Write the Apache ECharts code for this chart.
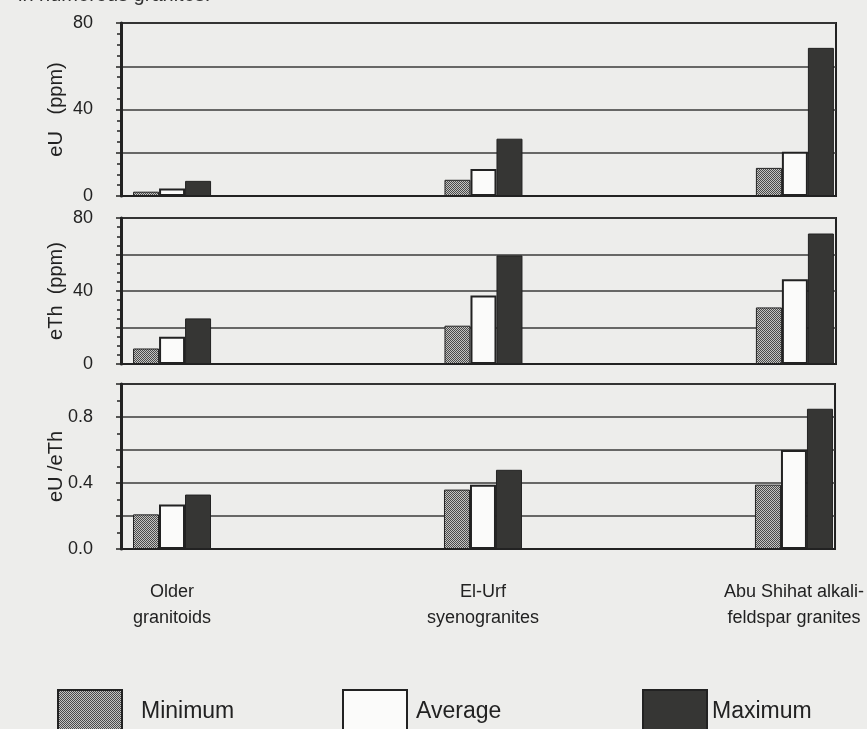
<!DOCTYPE html>
<html>
<head>
<meta charset="utf-8">
<script src="https://cdn.jsdelivr.net/npm/echarts@6/dist/echarts.min.js"></script>
<style>
  html, body { margin: 0; padding: 0; background: #ededeb; }
  #chart { width: 867px; height: 729px; }
</style>
</head>
<body>
<div id="chart"></div>
<script>
// rock groups, placed at 1, 2, 3 on the shared x value axis
const groups = ['Older\ngranitoids', 'El-Urf\nsyenogranites', 'Abu Shihat alkali-\nfeldspar granites'];
const groupPos = [1, 2, 3];

// eU (ppm)
const eUMin = [2, 7.5, 13];
const eUAvg = [3.5, 12.5, 20.5];
const eUMax = [7, 26.5, 68.5];

// eTh (ppm)
const eThMin = [8.5, 21, 31];
const eThAvg = [15, 37.5, 46.5];
const eThMax = [25, 59.5, 71.5];

// eU / eTh
const ratioMin = [0.21, 0.36, 0.39];
const ratioAvg = [0.27, 0.39, 0.60];
const ratioMax = [0.33, 0.48, 0.85];

const ink = '#222';

// stippled fill for the "Minimum" bars
const dots = document.createElement('canvas');
dots.width = 4; dots.height = 4;
const dctx = dots.getContext('2d');
dctx.fillStyle = '#c4c4c2';
dctx.fillRect(0, 0, 4, 4);
dctx.fillStyle = '#4a4a4a';
for (let y = 0; y < 4; y++) {
  for (let x = 0; x < 4; x++) {
    if ((x + y) % 2 === 0) dctx.fillRect(x, y, 1, 1);
  }
}

const styles = {
  Minimum: { color: { image: dots, repeat: 'repeat' }, borderColor: ink, borderWidth: 1 },
  Average: { color: '#fbfbfa', borderColor: ink, borderWidth: 2 },
  Maximum: { color: '#363634', borderColor: ink, borderWidth: 1 }
};

const pairs = vals => vals.map((v, i) => [groupPos[i], v]);

const chart = echarts.init(document.getElementById('chart'));

const grids = [
  { left: 121, right: 31, top: 23, height: 173 },
  { left: 121, right: 31, top: 218, height: 146 },
  { left: 121, right: 31, top: 384, height: 165 }
].map(g => Object.assign(g, { show: true, borderColor: ink, borderWidth: 2, backgroundColor: 'transparent' }));

const xAxes = [0, 1, 2].map(i => ({
  type: 'value',
  gridIndex: i,
  min: 0.836,
  max: 3.132,
  splitLine: { show: false },
  axisTick: { show: false },
  axisLine: { show: true, onZero: false, lineStyle: { color: ink, width: 2 } },
  axisLabel: {
    show: i === 2,
    customValues: groupPos,
    formatter: v => groups[Math.round(v) - 1] || '',
    margin: 30,
    color: ink,
    fontFamily: 'Liberation Sans',
    fontSize: 18,
    lineHeight: 26
  }
}));

const yBase = {
  axisLine: { show: true, lineStyle: { color: ink, width: 3 } },
  axisTick: { show: true, length: 5, lineStyle: { color: ink, width: 1.5 } },
  minorTick: { show: true, length: 4, lineStyle: { color: ink, width: 1.5 } },
  splitLine: { show: true, lineStyle: { color: '#3a3a3a', width: 1.5 } },
  nameLocation: 'middle',
  nameGap: 55,
  nameMoveOverlap: false,
  nameTextStyle: { color: ink, fontFamily: 'Liberation Sans', fontSize: 20 }
};
const tickFont = { color: ink, fontFamily: 'Liberation Sans', fontSize: 18, margin: 28 };

const yAxes = [
  Object.assign({}, yBase, {
    type: 'value', gridIndex: 0, min: 0, max: 80, interval: 20, name: 'eU   (ppm)',
    minorTick: Object.assign({}, yBase.minorTick, { splitNumber: 4 }),
    axisLabel: Object.assign({}, tickFont, { formatter: v => (v % 40 === 0 ? String(v) : '') })
  }),
  Object.assign({}, yBase, {
    type: 'value', gridIndex: 1, min: 0, max: 80, interval: 20, name: 'eTh  (ppm)',
    minorTick: Object.assign({}, yBase.minorTick, { splitNumber: 4 }),
    axisLabel: Object.assign({}, tickFont, { formatter: v => (v % 40 === 0 ? String(v) : '') })
  }),
  Object.assign({}, yBase, {
    type: 'value', gridIndex: 2, min: 0, max: 1, interval: 0.2, name: 'eU /eTh',
    minorTick: Object.assign({}, yBase.minorTick, { splitNumber: 2 }),
    axisLabel: Object.assign({}, tickFont, {
      formatter: v => (Math.round(v * 10) % 4 === 0 && v < 0.95 ? v.toFixed(1) : '')
    })
  })
];

const panels = [
  [eUMin, eUAvg, eUMax],
  [eThMin, eThAvg, eThMax],
  [ratioMin, ratioAvg, ratioMax]
];
const names = ['Minimum', 'Average', 'Maximum'];

const series = [];
panels.forEach((sets, p) => {
  sets.forEach((vals, k) => {
    series.push({
      type: 'bar',
      name: names[k],
      xAxisIndex: p,
      yAxisIndex: p,
      data: pairs(vals),
      barWidth: 26,
      barGap: '0%',
      itemStyle: styles[names[k]],
      emphasis: { disabled: true },
      z: 3
    });
  });
});

const legendBase = {
  top: 689,
  padding: 0,
  orient: 'horizontal',
  icon: 'rect',
  itemWidth: 64,
  itemHeight: 44,
  selectedMode: false,
  textStyle: { color: ink, fontFamily: 'Liberation Sans', fontSize: 23 }
};

chart.setOption({
  backgroundColor: '#ededeb',
  animation: false,
  grid: grids,
  xAxis: xAxes,
  yAxis: yAxes,
  series: series,
  legend: [
    Object.assign({}, legendBase, { left: 57, data: ['Minimum'],
      textStyle: Object.assign({}, legendBase.textStyle, { padding: [0, 0, 0, 14] }) }),
    Object.assign({}, legendBase, { left: 342, data: ['Average'],
      textStyle: Object.assign({}, legendBase.textStyle, { padding: [0, 0, 0, 4] }) }),
    Object.assign({}, legendBase, { left: 642, data: ['Maximum'] })
  ],
  graphic: [{
    type: 'text',
    left: 18,
    top: -15,
    style: { text: 'in numerous granites.', fill: '#333', font: '20px "Liberation Sans"' }
  }]
});
</script>
</body>
</html>
